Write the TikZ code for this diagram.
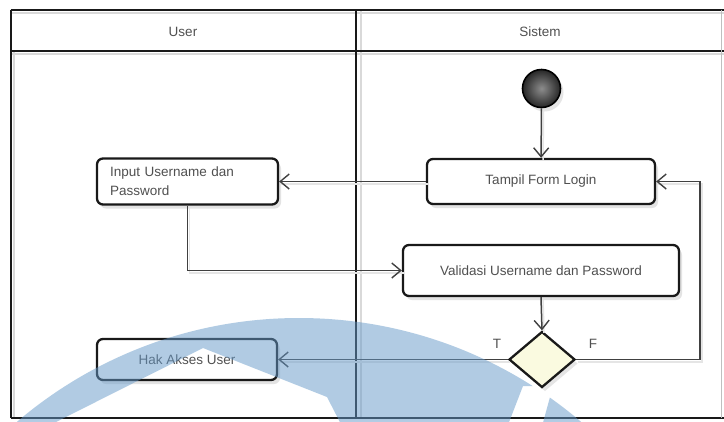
\documentclass[tikz,border=0pt]{standalone}
\usepackage{fontspec}
\setmainfont{Liberation Sans}
\usetikzlibrary{arrows.meta,shapes.geometric,shadows}
\definecolor{ink}{RGB}{80,80,80}
\definecolor{edge}{RGB}{25,25,25}
\definecolor{wmblue}{RGB}{101,153,201}
\definecolor{decfill}{RGB}{250,250,224}
\begin{document}
\begin{tikzpicture}[x=1pt,y=-1pt,
  font=\fontsize{13.5}{19}\selectfont,
  lbl/.style={text=ink, inner sep=0pt},
  actbox/.style={draw=edge, line width=2.3pt, rounded corners=6pt, fill=white, text=ink,
    inner sep=0pt, drop shadow={shadow xshift=3pt, shadow yshift=-4pt, opacity=0.22}},
  flowline/.style={draw=black!75, line width=1.5pt,
    -{Straight Barb[length=9pt,width=15pt,line width=1.4pt]},
    preaction={draw=black!10, line width=1.5pt, -, transform canvas={shift={(2pt,-2.5pt)}}}},
  frameline/.style={line width=2pt, draw=black!90},
  frameshade/.style={line width=2pt, draw=black!15},
]
\useasboundingbox (0,0) rectangle (724,421);
\fill[white] (0,0) rectangle (724,421);

% swimlane frame: soft shadow lines first, then the frame itself
\draw[frameshade] (10.5,12.5) -- (724,12.5);
\draw[frameshade] (10.5,54) -- (724,54);
\draw[frameshade] (360.5,9.5) -- (360.5,418);
\draw[frameshade] (14,51) -- (14,418);
\draw[frameline] (10.5,9.5) -- (724,9.5);
\draw[frameline] (10.5,51) -- (724,51);
\draw[frameline] (10.5,418) -- (724,418);
\draw[frameline] (10.5,9.5) -- (10.5,418);
\draw[frameline] (356,9.5) -- (356,418);
\draw[line width=1.2pt, draw=black!25] (721.5,9.5) -- (721.5,418);

% lane titles
\node[lbl] (laneuser) at (183,32) {User};
\node[lbl] (lanesys) at (540,32) {Sistem};

% initial node
\node[circle, draw=black, line width=1.6pt, minimum size=38pt, inner sep=0pt,
  inner color=black!45, outer color=black!85,
  drop shadow={shadow xshift=3pt, shadow yshift=-4pt, opacity=0.2}] (start) at (541.5,88.5) {};

% activities
\node[actbox, minimum width=228pt, minimum height=45pt] (tampil) at (541,181.5) {Tampil Form Login};
\node[actbox, minimum width=181pt, minimum height=46pt, text width=155pt, align=left]
  (input) at (187.5,181.5) {Input Username dan\\Password};
\node[actbox, minimum width=276pt, minimum height=51pt] (validasi) at (541,270.5) {Validasi Username dan Password};
\node[actbox, minimum width=180pt, minimum height=41pt] (hak) at (187,359.5) {Hak Akses User};

% decision
\node[diamond, draw=edge, line width=2.3pt, fill=decfill, minimum width=66pt, minimum height=56pt,
  inner sep=0pt, drop shadow={shadow xshift=3pt, shadow yshift=-4pt, opacity=0.2}] (dec) at (542,359.5) {};
\node[lbl] (tlabel) at (497,344) {T};
\node[lbl] (flabel) at (593,344) {F};

% control flow
\coordinate (loopc) at (700,359.5);
\draw[flowline] (start) -- (tampil);
\draw[flowline] (tampil.west) -- (input.east);
\draw[flowline] (input.south) |- (validasi.west);
\draw[flowline] (validasi.south) -- (dec.north);
\draw[flowline] (dec.west) -- (hak.east);
\draw[flowline] (dec.east) -- (loopc) |- (tampil.east);

% background emblem, laid over the page
\begin{scope}
  \clip (0,0) rectangle (724,421);
  \clip (299,753) circle (435);
  \fill[wmblue, opacity=0.5, even odd rule]
    (0,0) rectangle (724,430)
    (40,430) -- (58,421) -- (203,348) -- (327,397) -- (344,430) -- cycle
    (523,386) -- (553,386) -- (541,430) -- (506,430) -- cycle;
\end{scope}
\end{tikzpicture}
\end{document}
